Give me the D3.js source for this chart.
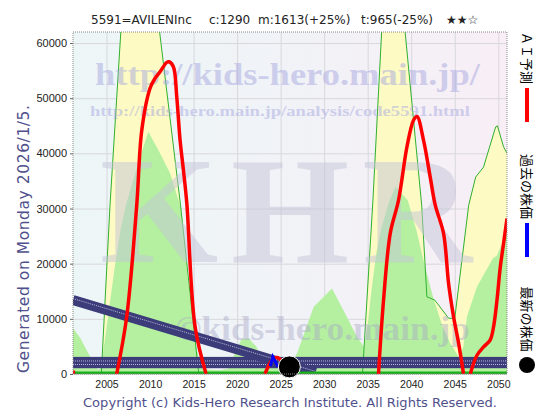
<!DOCTYPE html>
<html><head><meta charset="utf-8">
<script src="https://cdn.jsdelivr.net/npm/d3@7"></script>
<style>body{margin:0;background:#fff}svg{display:block}</style>
</head><body>
<script>
// ---------- data ----------
const titleParts = ["5591=AVILENInc", "c:1290", "m:1613(+25%)", "t:965(-25%)", "★★☆"];
const xTicks = [2005, 2010, 2015, 2020, 2025, 2030, 2035, 2040, 2045, 2050];
const yTicks = [0, 10000, 20000, 30000, 40000, 50000, 60000];

// upper band (yellow)
const upperYears = [2001.15, 2004.4, 2005.4, 2006.8, 2007.5, 2010.5, 2011.1, 2013.5, 2015.6, 2034.4, 2035.6, 2036.6, 2037.0, 2039.0, 2039.3, 2041.2, 2041.8, 2042.7, 2044.3, 2045.0, 2046.6, 2047.4, 2048.3, 2049.7, 2049.9, 2050.6, 2051.0];
const upperVals  = [0, 0, 30600, 66000, 72000, 72000, 62000, 30600, 0, 0, 31500, 62000, 72000, 72000, 62000, 30600, 14000, 13400, 10100, 10100, 30600, 35700, 37500, 44800, 45000, 41200, 40000];

// lower band (green)
const lowerYears = [2001.15, 2002.0, 2003.0, 2003.6, 2004.0, 2004.3, 2004.8, 2005.4, 2006.0, 2006.6, 2007.2, 2008.5, 2009.8, 2011.15, 2012.3, 2013.45, 2014.3, 2015.2, 2015.8, 2016.5, 2018.0, 2019.0, 2019.8, 2020.5, 2021.3, 2022.2, 2023.0, 2024.0, 2025.0, 2026.0, 2026.9, 2028.8, 2030.9, 2032.6, 2033.75, 2034.6, 2035.0, 2035.5, 2036.0, 2036.5, 2037.4, 2038.2, 2039.0, 2039.6, 2040.6, 2041.5, 2042.5, 2043.5, 2044.5, 2045.5, 2046.0, 2046.4, 2047.55, 2048.5, 2049.4, 2049.85, 2050.5, 2051.0];
const lowerVals  = [8300, 6500, 3500, 1800, 800, 1000, 6000, 13000, 20000, 26000, 30500, 37500, 43900, 40000, 36400, 30600, 18000, 5600, 1500, 800, 700, 1000, 4000, 6300, 6500, 5000, 2500, 1200, 1000, 1200, 3800, 12200, 15500, 10400, 6800, 4900, 9000, 16000, 22000, 26000, 31000, 34000, 32500, 31500, 26000, 20000, 14000, 9000, 5500, 3000, 5000, 10400, 15800, 18500, 21000, 21500, 24000, 25500];

// AI prediction (red), null = gap
const aiYears = [2001.15, 2001.4, null, 2006.17, 2007.32, 2008.47, 2009.05, 2010.0, 2010.57, 2011.15, 2011.92, 2012.18, 2012.68, 2013.07, 2013.45, 2013.83, 2014.22, 2015.17, 2016.44, null, 2023.2, 2024.0, 2024.6, 2025.3, 2026.0, null, 2036.24, 2036.82, 2037.59, 2038.54, 2039.51, 2040.26, 2040.66, 2041.41, 2042.18, 2042.76, 2043.71, 2044.29, 2044.86, 2045.44, 2046.01, null, 2046.78, 2047.55, 2048.31, 2049.08, 2049.46, 2049.85, 2050.23, 2050.61, 2051.0];
const aiVals  = [300, 300, null, 0, 10400, 30600, 44200, 51800, 53600, 54800, 56500, 56600, 55700, 50200, 42400, 37000, 31000, 8600, 0, null, 0, 2500, 3000, 2000, 0, null, 0, 13400, 25500, 31500, 41200, 46000, 46700, 42400, 35700, 30600, 25500, 16400, 10400, 5600, 0, null, 0, 3400, 4900, 6200, 8600, 13400, 19400, 23700, 28200];

// past price (blue) and latest price
const pastYears = [2023.8, 2024.1, 2024.4, 2024.7];
const pastVals  = [1400, 3100, 2200, 1300];
const latestYear = 2026.0, latestVal = 1290;

// trend bands (navy)
const trendYears = [2001.15, 2029.0];
const trendVals  = [13400, 200];
const flatBandLow = 1050, flatBandHigh = 3100;
const flatLines = [2360, 1720];

const legendItems = [
  {label: "ＡＩ予測", color: "#ff0000", kind: "bar"},
  {label: "過去の株価", color: "#0000ff", kind: "bar"},
  {label: "最新の株価", color: "#000000", kind: "dot"}
];

// ---------- drawing ----------
const W = 560, H = 420;
const L = 73, R = 507, T = 32, B = 374;
const svg = d3.select("body").append("svg").attr("width", W).attr("height", H)
  .style("font-family", "'DejaVu Sans', sans-serif");

const x = d3.scaleLinear().domain([2001.15, 2051.0]).range([L, R]);
const y = d3.scaleLinear().domain([0, 62000]).range([B, T]);

const defs = svg.append("defs");
const grad = defs.append("linearGradient").attr("id", "bg").attr("x1", "0").attr("x2", "1");
grad.append("stop").attr("offset", "0").attr("stop-color", "#edf6f7");
grad.append("stop").attr("offset", "0.45").attr("stop-color", "#f0f3f7");
grad.append("stop").attr("offset", "1").attr("stop-color", "#f8eef6");
defs.append("clipPath").attr("id", "clip").append("rect")
  .attr("x", L).attr("y", T).attr("width", R - L).attr("height", B - T);

svg.append("rect").attr("x", L).attr("y", T).attr("width", R - L).attr("height", B - T).attr("fill", "url(#bg)");

// grid via axes
svg.append("g").attr("transform", `translate(0,${B})`)
  .call(d3.axisBottom(x).tickValues(xTicks).tickSize(-(B - T)).tickFormat(""))
  .call(g => g.select(".domain").remove())
  .call(g => g.selectAll("line").attr("stroke", "#d8d8dc"));
svg.append("g").attr("transform", `translate(${L},0)`)
  .call(d3.axisLeft(y).tickValues(yTicks).tickSize(-(R - L)).tickFormat(""))
  .call(g => g.select(".domain").remove())
  .call(g => g.selectAll("line").attr("stroke", "#d8d8dc"));

const plot = svg.append("g").attr("clip-path", "url(#clip)");

const upper = upperYears.map((d, i) => [d, upperVals[i]]);
const lower = lowerYears.map((d, i) => [d, lowerVals[i]]);
const area = d3.area().x(d => x(d[0])).y0(y(0)).y1(d => y(d[1]));
const line = d3.line().x(d => x(d[0])).y(d => y(d[1]));

plot.append("path").datum(upper).attr("d", area).attr("fill", "#fdfac4");
plot.append("path").datum(lower).attr("d", area).attr("fill", "#b4f0a0");
plot.append("path").datum(upper).attr("d", line).attr("fill", "none").attr("stroke", "#2fb02f").attr("stroke-width", 1);

// watermarks
const wm = plot.append("g").style("font-family", "'Liberation Serif', serif").style("font-weight", "bold");
wm.append("text").attr("x", 95).attr("y", 85).attr("font-size", 31).attr("textLength", 385)
  .attr("lengthAdjust", "spacingAndGlyphs").attr("fill", "#a8a8e0").attr("fill-opacity", 0.5).text("http://kids-hero.main.jp/");
wm.append("text").attr("x", 90).attr("y", 116).attr("font-size", 15).attr("textLength", 380)
  .attr("lengthAdjust", "spacingAndGlyphs").attr("fill", "#a8a8e0").attr("fill-opacity", 0.5).text("http://kids-hero.main.jp/analysis/code5591.html");
wm.append("text").attr("x", 100).attr("y", 262).attr("font-size", 152).attr("textLength", 372)
  .attr("lengthAdjust", "spacing").attr("fill", "#c4c4d8").attr("fill-opacity", 0.5).text("KHR");
wm.append("text").attr("x", 175).attr("y", 340).attr("font-size", 34).attr("textLength", 295)
  .attr("lengthAdjust", "spacingAndGlyphs").attr("fill", "#a8a8c8").attr("fill-opacity", 0.45).text("©kids-hero.main.jp");

// navy trend bands
const navy = "#3c3c7a";
plot.append("rect").attr("x", L).attr("width", R - L).attr("y", y(flatBandHigh)).attr("height", y(flatBandLow) - y(flatBandHigh)).attr("fill", navy);
flatLines.forEach(v => plot.append("line").attr("x1", L).attr("x2", R).attr("y1", y(v)).attr("y2", y(v))
  .attr("stroke", "#b8b8d8").attr("stroke-width", 1).attr("stroke-dasharray", "1,1"));
const trend = trendYears.map((d, i) => [d, trendVals[i]]);
plot.append("path").datum(trend).attr("d", line).attr("fill", "none").attr("stroke", navy).attr("stroke-width", 10);
plot.append("path").datum(trend).attr("d", line).attr("fill", "none").attr("stroke", "#b8b8d8").attr("stroke-width", 1).attr("stroke-dasharray", "1,1")
  .attr("transform", "translate(0,-1.5)");

// zero line
plot.append("line").attr("x1", L).attr("x2", R).attr("y1", y(0) - 1).attr("y2", y(0) - 1).attr("stroke", "#18b018").attr("stroke-width", 3);

// AI prediction
const ai = aiYears.map((d, i) => [d, aiVals[i]]);
plot.append("path").datum(ai).attr("d", d3.line().defined(d => d[0] !== null).x(d => x(d[0])).y(d => y(d[1])).curve(d3.curveCatmullRom))
  .attr("fill", "none").attr("stroke", "#ff0000").attr("stroke-width", 3.5).attr("stroke-linejoin", "round");

// past price
const past = pastYears.map((d, i) => [d, pastVals[i]]);
plot.append("path").datum(past).attr("d", line).attr("fill", "none").attr("stroke", "#0000ff").attr("stroke-width", 3);

// latest
svg.append("circle").attr("cx", x(latestYear)).attr("cy", y(latestVal)).attr("r", 11).attr("fill", "#000").attr("stroke", "#fff").attr("stroke-width", 1);

// border
svg.append("rect").attr("x", L).attr("y", T).attr("width", R - L).attr("height", B - T)
  .attr("fill", "none").attr("stroke", "#888").attr("stroke-dasharray", "1,1");

// axis labels
svg.append("g").attr("transform", `translate(${L},0)`)
  .call(d3.axisLeft(y).tickValues(yTicks).tickSize(3).tickPadding(3).tickFormat(d3.format("d")))
  .call(g => g.select(".domain").remove())
  .call(g => g.selectAll("line").attr("stroke", "#666"))
  .call(g => g.selectAll("text").attr("font-size", 11).attr("fill", "#222").style("font-family", "'Liberation Sans', sans-serif"));
svg.append("g").attr("transform", `translate(0,${B})`)
  .call(d3.axisBottom(x).tickValues(xTicks).tickSize(0).tickPadding(7).tickFormat(d3.format("d")))
  .call(g => g.select(".domain").remove())
  .call(g => g.selectAll("text").attr("font-size", 10.5).attr("fill", "#222").style("font-family", "'Liberation Sans', sans-serif"));

// title
const titleX = [91, 209, 258, 361, 446];
titleParts.forEach((t, i) => svg.append("text").attr("x", titleX[i]).attr("y", 24).attr("font-size", 12).attr("fill", "#222").text(t));

// side texts
svg.append("text").attr("transform", "translate(29,239) rotate(-90)").attr("text-anchor", "middle")
  .attr("font-size", 15.5).attr("fill", "#50508c").attr("textLength", 268).attr("lengthAdjust", "spacing")
  .text("Generated on Monday 2026/1/5.");
svg.append("text").attr("x", 83).attr("y", 407).attr("font-size", 12.5).attr("fill", "#50508c")
  .attr("textLength", 414).attr("lengthAdjust", "spacingAndGlyphs")
  .text("Copyright (c) Kids-Hero Research Institute. All Rights Reserved.");

// legend
const legCenters = [58, 186.5, 319];
const legMarks = [[88, 122], [223, 257], [365, 365]];
legendItems.forEach((d, i) => {
  svg.append("text").attr("transform", `translate(527,${legCenters[i]}) rotate(90)`)
    .attr("text-anchor", "middle").attr("dominant-baseline", "central")
    .attr("font-size", 13).style("font-family", "'Noto Sans CJK JP', sans-serif").attr("fill", "#000").text(d.label);
  if (d.kind === "bar") {
    svg.append("rect").attr("x", 525).attr("y", legMarks[i][0]).attr("width", 4).attr("height", legMarks[i][1] - legMarks[i][0]).attr("fill", d.color);
  } else {
    svg.append("circle").attr("cx", 527).attr("cy", legMarks[i][0]).attr("r", 8).attr("fill", d.color);
  }
});
</script>
</body></html>
